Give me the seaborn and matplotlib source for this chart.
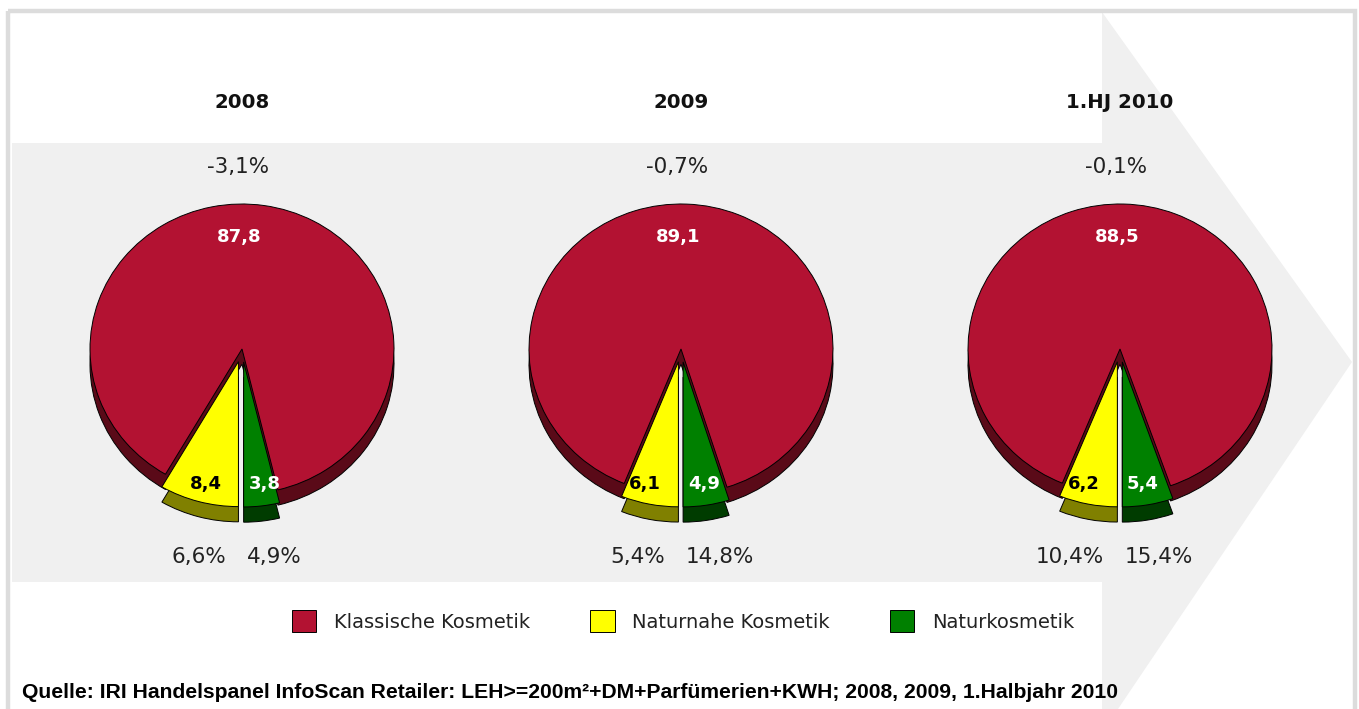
import matplotlib
matplotlib.use("Agg")
import matplotlib.pyplot as plt
import seaborn as sns
from matplotlib.patches import Polygon, Rectangle

sns.set_theme(style="white")
plt.rcParams['font.family'] = ['DejaVu Sans']

# Daten (Marktanteile in %, Wachstum ggü. Vorjahr in %)
years = ["2008", "2009", "1.HJ 2010"]
klassisch = [87.8, 89.1, 88.5]
naturnah = [8.4, 6.1, 6.2]
natur = [3.8, 4.9, 5.4]
growth_klassisch = [-3.1, -0.7, -0.1]
growth_naturnah = [6.6, 5.4, 10.4]
growth_natur = [4.9, 14.8, 15.4]
segments = ["Klassische Kosmetik", "Naturnahe Kosmetik", "Naturkosmetik"]

top_colors = ["#B31232", "#FFFF00", "#008000"]
side_colors = ["#5A0A18", "#808000", "#003C00"]
label_colors = ["white", "black", "white"]

W, H = 1359, 709
fig = plt.figure(figsize=(W / 100, H / 100), dpi=100)
fig.patch.set_facecolor("white")

# Hintergrund mit Rahmen und Pfeil
bg = fig.add_axes([0, 0, 1, 1])
bg.set_xlim(0, W)
bg.set_ylim(H, 0)
bg.axis("off")
arrow = Polygon([(12, 143), (1102, 143), (1102, 12), (1352, 362), (1118, 709),
                 (1102, 709), (1102, 582), (12, 582)],
                closed=True, facecolor="#F0F0F0", edgecolor="none", zorder=0)
bg.add_patch(arrow)
bg.add_patch(Rectangle((8, 11), 1347, 720, facecolor="none", edgecolor="#DCDCDC",
                       linewidth=3.2, zorder=1))


def fmt(v, pct=False):
    s = f"{v:.1f}".replace(".", ",")
    return s + "%" if pct else s


centers_x = [242, 681, 1120]
cy = 349
Rx, Ry = 152, 145
lim = 1.3
depth = 0.105

for i, year in enumerate(years):
    cx = centers_x[i]
    ax = fig.add_axes([(cx - lim * Rx) / W, (H - cy - lim * Ry) / H,
                       2 * lim * Rx / W, 2 * lim * Ry / H])

    # gegen den Uhrzeigersinn ab unten: Natur, Klassisch, Naturnah
    order = [2, 0, 1]
    vals = [[klassisch[i], naturnah[i], natur[i]][k] for k in order]
    explode = [0.09 if k != 0 else 0 for k in order]

    # Seitenflaeche (3D-Effekt)
    ax.pie(vals, startangle=270, counterclock=True, explode=explode,
           colors=[side_colors[k] for k in order], center=(0, -depth),
           wedgeprops=dict(edgecolor="black", linewidth=0.7), frame=False)
    wedges, texts = ax.pie(vals, startangle=270, counterclock=True, explode=explode,
                           colors=[top_colors[k] for k in order],
                           labels=[fmt(v) for v in vals], labeldistance=0.8,
                           wedgeprops=dict(edgecolor="black", linewidth=0.7), frame=False)
    label_pos = {0: (-0.02, 0.77), 1: (-0.24, -0.93), 2: (0.15, -0.93)}
    for t, k in zip(texts, order):
        t.set_position(label_pos[k])
        t.set_ha("center")
        t.set_va("center")
        t.set_color(label_colors[k])
        t.set_fontweight("bold")
        t.set_fontsize(13)
    ax.set_aspect("auto")
    ax.set_xlim(-lim, lim)
    ax.set_ylim(-lim, lim)
    ax.axis("off")
    if i == 0:
        legend_handles = [wedges[order.index(k)] for k in range(3)]

    # Texte
    bg.text(cx, 103, year, ha="center", va="center", fontsize=14.2, fontweight="bold",
            color="#111111")
    bg.text(cx - 4, 167, fmt(growth_klassisch[i], True), ha="center", va="center",
            fontsize=15.5, color="#222222")
    bg.text(cx - 16, 557, fmt(growth_naturnah[i], True), ha="right", va="center",
            fontsize=15.5, color="#222222")
    bg.text(cx + 5, 557, fmt(growth_natur[i], True), ha="left", va="center",
            fontsize=15.5, color="#222222")

leg = bg.legend(legend_handles, segments, loc="center", bbox_to_anchor=(683 / W, 1 - 621 / H),
                bbox_transform=fig.transFigure, ncol=3, frameon=False, fontsize=14,
                handlelength=1.25, handleheight=1.3, handletextpad=0.9, columnspacing=3.1)
for txt in leg.get_texts():
    txt.set_color("#222222")

bg.text(22, 693, "Quelle: IRI Handelspanel InfoScan Retailer: LEH>=200m²+DM+Parfümerien+KWH; "
        "2008, 2009, 1.Halbjahr 2010", ha="left", va="center", fontsize=15.2,
        fontweight="bold", family=["Liberation Sans Narrow", "Liberation Sans"], color="black")

fig.savefig("out.png", dpi=100)
